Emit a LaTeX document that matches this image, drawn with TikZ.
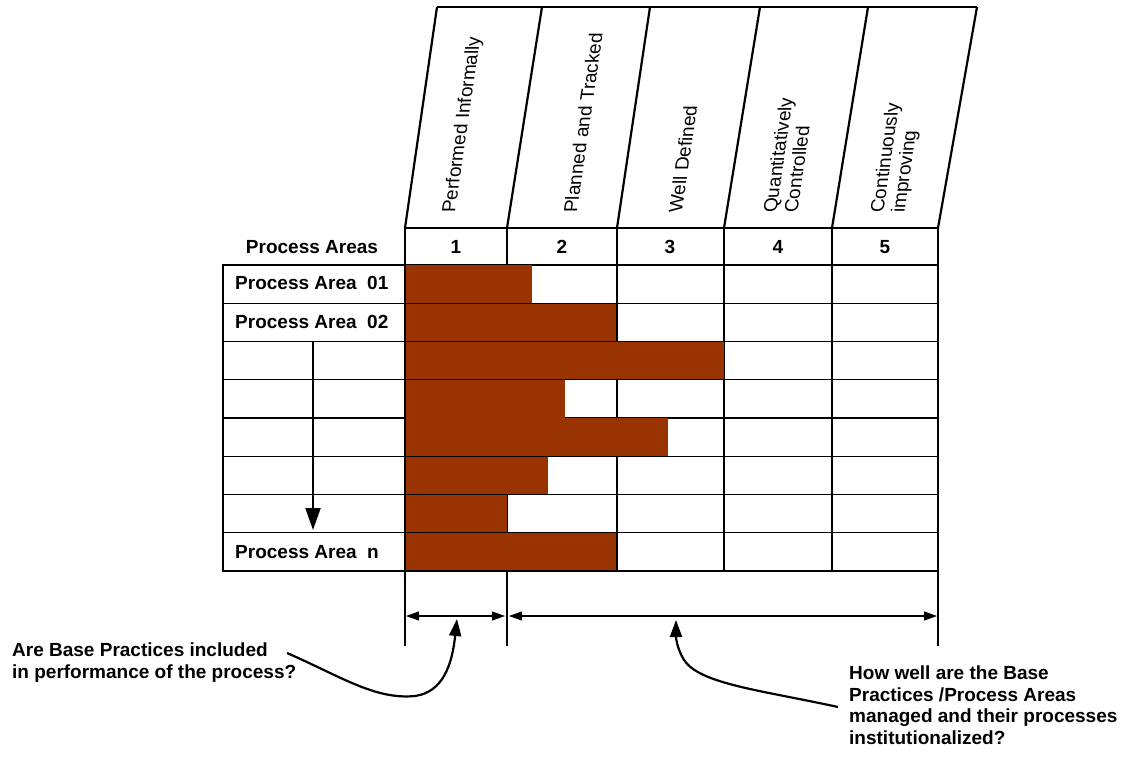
\documentclass[tikz,border=0pt]{standalone}
\usepackage{fontspec}
\setmainfont{Liberation Sans}
\usepackage{tikz}
\usetikzlibrary{arrows,arrows.meta}
\definecolor{cbrown}{rgb}{0.6, 0.2, 0.0}

\begin{document}
\begin{tikzpicture}[x=1pt,y=-1pt,>=stealth',
  label node/.style={font=\fontsize{19}{21.5}\selectfont\bfseries,inner sep=0pt},
        level node/.style={font=\fontsize{19}{21}\selectfont,inner sep=0pt,align=left,anchor=west,xslant=0.145,rotate=90},
        grid line/.style={line width=1.3pt},
        frame line/.style={line width=2.2pt},
        dim arrow/.style={line width=1.1pt,{Triangle[length=13pt,width=9pt]}-{Triangle[length=13pt,width=9pt]}},
        note arrow/.style={line width=2.2pt,-{Triangle[length=17pt,width=12pt]}}]
  \useasboundingbox (0,0) rectangle (1126,765);

  % slanted level headers
  \foreach \b/\t in {405/437,507/542,617/650,724/760,832/868,938/977}
    \draw[frame line] (\b,228) -- (\t,7);
  \draw[frame line] (437,7) -- (977,7);
  \node[level node] (h1) at (450,213) {Performed Informally};
  \node[level node] (h2) at (570,213) {Planned and Tracked};
  \node[level node] (h3) at (675,213) {Well Defined};
  \node[level node] (h4) at (780,213) {Quantitatively\\Controlled};
  \node[level node] (h5) at (889,213) {Continuously\\improving};

  % grid
  \foreach \x in {507,617,724,832}
    \draw[grid line] (\x,228) -- (\x,571);
  \foreach \y in {265,303.25,341.5,379.75,418,456.25,494.5,532.75}
    \draw[grid line] (223,\y) -- (938,\y);

  % bars
  \foreach \i/\e in {0/532,1/616,2/724,3/565,4/668,5/548,6/507,7/616}
    \fill[cbrown] (405,265+38.25*\i+0.3) rectangle (\e,265+38.25*\i+38.25-0.3);

  % frames
  \draw[frame line] (405,228) -- (938,228) -- (938,571) -- (405,571);
  \draw[frame line] (405,228) -- (405,265);
  \draw[frame line] (223,265) rectangle (405,571);

  % column numbers and row labels
  \node[label node] (pa) at (312,247) {Process Areas};
  \foreach \x/\n in {456/1,562/2,670/3,778/4,885/5}
    \node[label node] (n\n) at (\x,247) {\n};
  \node[label node,anchor=west] (r1) at (235,283) {Process Area\ \ 01};
  \node[label node,anchor=west] (r2) at (235,321.5) {Process Area\ \ 02};
  \node[label node,anchor=west] (rn) at (235,552) {Process Area\ \ n};

  \coordinate (down top) at (313,341.5);
  \coordinate (down end) at (313,530);
  \draw[line width=2pt,-{Triangle[width=15pt,length=22pt]}] (down top) -- (down end);

  % extent of the levels
  \foreach \x in {405,507,938}
    \draw[line width=1.2pt] (\x,571) -- (\x,646);
  \coordinate (d1a) at (406,616);
  \coordinate (d1b) at (505,616);
  \coordinate (d2a) at (509,616);
  \coordinate (d2b) at (937,616);
  \draw[dim arrow] (d1a) -- (d1b);
  \draw[dim arrow] (d2a) -- (d2b);

  % questions
  \node[label node,anchor=north west,align=left] (q1) at (12,643)
    {Are Base Practices included\\in performance of the process?};
  \node[label node,anchor=north west,align=left] (q2) at (849,666)
    {How well are the Base\\Practices /Process Areas\\managed and their processes\\institutionalized?};
  \coordinate (q1 start) at (287,653);
  \coordinate (q1 tip) at (457,619);
  \coordinate (q2 start) at (838,707);
  \coordinate (q2 tip) at (676,620);
  \draw[note arrow] (q1 start) .. controls (340,676) and (375,700) .. (415,696)
    .. controls (443,692) and (452,665) .. (q1 tip);
  \draw[note arrow] (q2 start) .. controls (760,690) and (700,684) .. (684,660)
    .. controls (678,650) and (676,640) .. (q2 tip);
\end{tikzpicture}
\end{document}
